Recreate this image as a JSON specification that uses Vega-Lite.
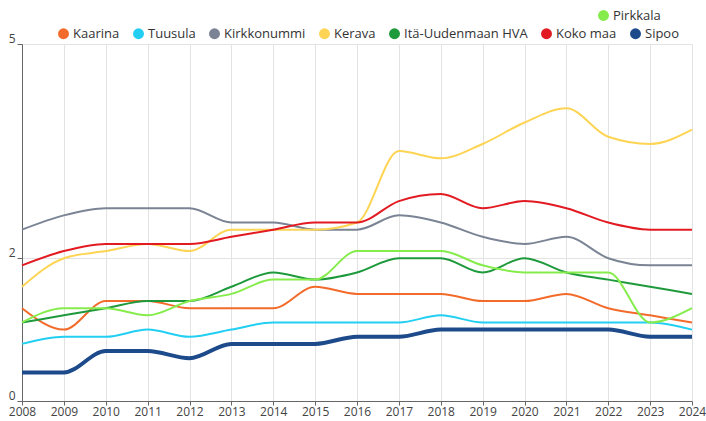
{
  "$schema": "https://vega.github.io/schema/vega-lite/v6.json",
  "autosize": "none",
  "width": 670,
  "height": 357,
  "padding": {"left": 22, "top": 44, "right": 14, "bottom": 20},
  "background": "white",
  "config": {
    "font": "Open Sans",
    "view": {"stroke": null},
    "axis": {"labelFont": "Open Sans", "labelFontSize": 12, "labelColor": "#444", "domainColor": "#666", "tickColor": "#666", "gridColor": "#e3e3e3", "title": null}
  },
  "data": {"values": [
    {"kunta": "Kaarina", "vuosi": 2008, "arvo": 1.3}, {"kunta": "Kaarina", "vuosi": 2009, "arvo": 1.0}, {"kunta": "Kaarina", "vuosi": 2010, "arvo": 1.4}, {"kunta": "Kaarina", "vuosi": 2011, "arvo": 1.4}, {"kunta": "Kaarina", "vuosi": 2012, "arvo": 1.3}, {"kunta": "Kaarina", "vuosi": 2013, "arvo": 1.3}, {"kunta": "Kaarina", "vuosi": 2014, "arvo": 1.3}, {"kunta": "Kaarina", "vuosi": 2015, "arvo": 1.6}, {"kunta": "Kaarina", "vuosi": 2016, "arvo": 1.5}, {"kunta": "Kaarina", "vuosi": 2017, "arvo": 1.5}, {"kunta": "Kaarina", "vuosi": 2018, "arvo": 1.5}, {"kunta": "Kaarina", "vuosi": 2019, "arvo": 1.4}, {"kunta": "Kaarina", "vuosi": 2020, "arvo": 1.4}, {"kunta": "Kaarina", "vuosi": 2021, "arvo": 1.5}, {"kunta": "Kaarina", "vuosi": 2022, "arvo": 1.3}, {"kunta": "Kaarina", "vuosi": 2023, "arvo": 1.2}, {"kunta": "Kaarina", "vuosi": 2024, "arvo": 1.1},
    {"kunta": "Tuusula", "vuosi": 2008, "arvo": 0.8}, {"kunta": "Tuusula", "vuosi": 2009, "arvo": 0.9}, {"kunta": "Tuusula", "vuosi": 2010, "arvo": 0.9}, {"kunta": "Tuusula", "vuosi": 2011, "arvo": 1.0}, {"kunta": "Tuusula", "vuosi": 2012, "arvo": 0.9}, {"kunta": "Tuusula", "vuosi": 2013, "arvo": 1.0}, {"kunta": "Tuusula", "vuosi": 2014, "arvo": 1.1}, {"kunta": "Tuusula", "vuosi": 2015, "arvo": 1.1}, {"kunta": "Tuusula", "vuosi": 2016, "arvo": 1.1}, {"kunta": "Tuusula", "vuosi": 2017, "arvo": 1.1}, {"kunta": "Tuusula", "vuosi": 2018, "arvo": 1.2}, {"kunta": "Tuusula", "vuosi": 2019, "arvo": 1.1}, {"kunta": "Tuusula", "vuosi": 2020, "arvo": 1.1}, {"kunta": "Tuusula", "vuosi": 2021, "arvo": 1.1}, {"kunta": "Tuusula", "vuosi": 2022, "arvo": 1.1}, {"kunta": "Tuusula", "vuosi": 2023, "arvo": 1.1}, {"kunta": "Tuusula", "vuosi": 2024, "arvo": 1.0},
    {"kunta": "Kirkkonummi", "vuosi": 2008, "arvo": 2.4}, {"kunta": "Kirkkonummi", "vuosi": 2009, "arvo": 2.6}, {"kunta": "Kirkkonummi", "vuosi": 2010, "arvo": 2.7}, {"kunta": "Kirkkonummi", "vuosi": 2011, "arvo": 2.7}, {"kunta": "Kirkkonummi", "vuosi": 2012, "arvo": 2.7}, {"kunta": "Kirkkonummi", "vuosi": 2013, "arvo": 2.5}, {"kunta": "Kirkkonummi", "vuosi": 2014, "arvo": 2.5}, {"kunta": "Kirkkonummi", "vuosi": 2015, "arvo": 2.4}, {"kunta": "Kirkkonummi", "vuosi": 2016, "arvo": 2.4}, {"kunta": "Kirkkonummi", "vuosi": 2017, "arvo": 2.6}, {"kunta": "Kirkkonummi", "vuosi": 2018, "arvo": 2.5}, {"kunta": "Kirkkonummi", "vuosi": 2019, "arvo": 2.3}, {"kunta": "Kirkkonummi", "vuosi": 2020, "arvo": 2.2}, {"kunta": "Kirkkonummi", "vuosi": 2021, "arvo": 2.3}, {"kunta": "Kirkkonummi", "vuosi": 2022, "arvo": 2.0}, {"kunta": "Kirkkonummi", "vuosi": 2023, "arvo": 1.9}, {"kunta": "Kirkkonummi", "vuosi": 2024, "arvo": 1.9},
    {"kunta": "Kerava", "vuosi": 2008, "arvo": 1.6}, {"kunta": "Kerava", "vuosi": 2009, "arvo": 2.0}, {"kunta": "Kerava", "vuosi": 2010, "arvo": 2.1}, {"kunta": "Kerava", "vuosi": 2011, "arvo": 2.2}, {"kunta": "Kerava", "vuosi": 2012, "arvo": 2.1}, {"kunta": "Kerava", "vuosi": 2013, "arvo": 2.4}, {"kunta": "Kerava", "vuosi": 2014, "arvo": 2.4}, {"kunta": "Kerava", "vuosi": 2015, "arvo": 2.4}, {"kunta": "Kerava", "vuosi": 2016, "arvo": 2.5}, {"kunta": "Kerava", "vuosi": 2017, "arvo": 3.5}, {"kunta": "Kerava", "vuosi": 2018, "arvo": 3.4}, {"kunta": "Kerava", "vuosi": 2019, "arvo": 3.6}, {"kunta": "Kerava", "vuosi": 2020, "arvo": 3.9}, {"kunta": "Kerava", "vuosi": 2021, "arvo": 4.1}, {"kunta": "Kerava", "vuosi": 2022, "arvo": 3.7}, {"kunta": "Kerava", "vuosi": 2023, "arvo": 3.6}, {"kunta": "Kerava", "vuosi": 2024, "arvo": 3.8},
    {"kunta": "Itä-Uudenmaan HVA", "vuosi": 2008, "arvo": 1.1}, {"kunta": "Itä-Uudenmaan HVA", "vuosi": 2009, "arvo": 1.2}, {"kunta": "Itä-Uudenmaan HVA", "vuosi": 2010, "arvo": 1.3}, {"kunta": "Itä-Uudenmaan HVA", "vuosi": 2011, "arvo": 1.4}, {"kunta": "Itä-Uudenmaan HVA", "vuosi": 2012, "arvo": 1.4}, {"kunta": "Itä-Uudenmaan HVA", "vuosi": 2013, "arvo": 1.6}, {"kunta": "Itä-Uudenmaan HVA", "vuosi": 2014, "arvo": 1.8}, {"kunta": "Itä-Uudenmaan HVA", "vuosi": 2015, "arvo": 1.7}, {"kunta": "Itä-Uudenmaan HVA", "vuosi": 2016, "arvo": 1.8}, {"kunta": "Itä-Uudenmaan HVA", "vuosi": 2017, "arvo": 2.0}, {"kunta": "Itä-Uudenmaan HVA", "vuosi": 2018, "arvo": 2.0}, {"kunta": "Itä-Uudenmaan HVA", "vuosi": 2019, "arvo": 1.8}, {"kunta": "Itä-Uudenmaan HVA", "vuosi": 2020, "arvo": 2.0}, {"kunta": "Itä-Uudenmaan HVA", "vuosi": 2021, "arvo": 1.8}, {"kunta": "Itä-Uudenmaan HVA", "vuosi": 2022, "arvo": 1.7}, {"kunta": "Itä-Uudenmaan HVA", "vuosi": 2023, "arvo": 1.6}, {"kunta": "Itä-Uudenmaan HVA", "vuosi": 2024, "arvo": 1.5},
    {"kunta": "Koko maa", "vuosi": 2008, "arvo": 1.9}, {"kunta": "Koko maa", "vuosi": 2009, "arvo": 2.1}, {"kunta": "Koko maa", "vuosi": 2010, "arvo": 2.2}, {"kunta": "Koko maa", "vuosi": 2011, "arvo": 2.2}, {"kunta": "Koko maa", "vuosi": 2012, "arvo": 2.2}, {"kunta": "Koko maa", "vuosi": 2013, "arvo": 2.3}, {"kunta": "Koko maa", "vuosi": 2014, "arvo": 2.4}, {"kunta": "Koko maa", "vuosi": 2015, "arvo": 2.5}, {"kunta": "Koko maa", "vuosi": 2016, "arvo": 2.5}, {"kunta": "Koko maa", "vuosi": 2017, "arvo": 2.8}, {"kunta": "Koko maa", "vuosi": 2018, "arvo": 2.9}, {"kunta": "Koko maa", "vuosi": 2019, "arvo": 2.7}, {"kunta": "Koko maa", "vuosi": 2020, "arvo": 2.8}, {"kunta": "Koko maa", "vuosi": 2021, "arvo": 2.7}, {"kunta": "Koko maa", "vuosi": 2022, "arvo": 2.5}, {"kunta": "Koko maa", "vuosi": 2023, "arvo": 2.4}, {"kunta": "Koko maa", "vuosi": 2024, "arvo": 2.4},
    {"kunta": "Sipoo", "vuosi": 2008, "arvo": 0.4}, {"kunta": "Sipoo", "vuosi": 2009, "arvo": 0.4}, {"kunta": "Sipoo", "vuosi": 2010, "arvo": 0.7}, {"kunta": "Sipoo", "vuosi": 2011, "arvo": 0.7}, {"kunta": "Sipoo", "vuosi": 2012, "arvo": 0.6}, {"kunta": "Sipoo", "vuosi": 2013, "arvo": 0.8}, {"kunta": "Sipoo", "vuosi": 2014, "arvo": 0.8}, {"kunta": "Sipoo", "vuosi": 2015, "arvo": 0.8}, {"kunta": "Sipoo", "vuosi": 2016, "arvo": 0.9}, {"kunta": "Sipoo", "vuosi": 2017, "arvo": 0.9}, {"kunta": "Sipoo", "vuosi": 2018, "arvo": 1.0}, {"kunta": "Sipoo", "vuosi": 2019, "arvo": 1.0}, {"kunta": "Sipoo", "vuosi": 2020, "arvo": 1.0}, {"kunta": "Sipoo", "vuosi": 2021, "arvo": 1.0}, {"kunta": "Sipoo", "vuosi": 2022, "arvo": 1.0}, {"kunta": "Sipoo", "vuosi": 2023, "arvo": 0.9}, {"kunta": "Sipoo", "vuosi": 2024, "arvo": 0.9},
    {"kunta": "Pirkkala", "vuosi": 2008, "arvo": 1.1}, {"kunta": "Pirkkala", "vuosi": 2009, "arvo": 1.3}, {"kunta": "Pirkkala", "vuosi": 2010, "arvo": 1.3}, {"kunta": "Pirkkala", "vuosi": 2011, "arvo": 1.2}, {"kunta": "Pirkkala", "vuosi": 2012, "arvo": 1.4}, {"kunta": "Pirkkala", "vuosi": 2013, "arvo": 1.5}, {"kunta": "Pirkkala", "vuosi": 2014, "arvo": 1.7}, {"kunta": "Pirkkala", "vuosi": 2015, "arvo": 1.7}, {"kunta": "Pirkkala", "vuosi": 2016, "arvo": 2.1}, {"kunta": "Pirkkala", "vuosi": 2017, "arvo": 2.1}, {"kunta": "Pirkkala", "vuosi": 2018, "arvo": 2.1}, {"kunta": "Pirkkala", "vuosi": 2019, "arvo": 1.9}, {"kunta": "Pirkkala", "vuosi": 2020, "arvo": 1.8}, {"kunta": "Pirkkala", "vuosi": 2021, "arvo": 1.8}, {"kunta": "Pirkkala", "vuosi": 2022, "arvo": 1.8}, {"kunta": "Pirkkala", "vuosi": 2023, "arvo": 1.1}, {"kunta": "Pirkkala", "vuosi": 2024, "arvo": 1.3}
  ]},
  "encoding": {
    "x": {"field": "vuosi", "type": "quantitative", "scale": {"domain": [2008, 2024], "nice": false, "zero": false},
      "axis": {"values": [2008,2009,2010,2011,2012,2013,2014,2015,2016,2017,2018,2019,2020,2021,2022,2023,2024], "format": "d", "grid": true, "tickSize": 4, "labelPadding": 1, "labelFlush": false, "labelOverlap": false}},
    "y": {"field": "arvo", "type": "quantitative", "scale": {"domain": [0, 5], "nice": false},
      "axis": {"values": [0, 2, 5], "grid": true, "tickSize": 5, "labelPadding": 2, "labelOffset": -6}}
  },
  "layer": [
    {
      "transform": [{"filter": "datum.kunta !== 'Pirkkala'"}],
      "mark": {"type": "line", "interpolate": "monotone"},
      "encoding": {
        "color": {"field": "kunta", "type": "nominal",
          "scale": {"domain": ["Kaarina", "Tuusula", "Kirkkonummi", "Kerava", "Itä-Uudenmaan HVA", "Koko maa", "Sipoo"],
            "range": ["#F26B2A", "#22CFF2", "#7B8494", "#FDD453", "#1E9A3C", "#E21A22", "#1C4A8A"]},
          "legend": {"title": null, "orient": "none", "legendX": 35, "legendY": -17, "direction": "horizontal", "columns": 7,
            "symbolType": "circle", "symbolSize": 120, "symbolStrokeWidth": 0, "symbolOpacity": 1,
            "labelFont": "Open Sans", "labelFontSize": 13, "labelColor": "#333", "columnPadding": 12, "labelOffset": 3,
            "encode": {"symbols": {"update": {"fill": {"scale": "color", "field": "value"}, "strokeWidth": {"value": 0}}}}}},
        "strokeWidth": {"condition": {"test": "datum.kunta === 'Sipoo'", "value": 4}, "value": 2}
      }
    },
    {
      "transform": [{"filter": "datum.kunta === 'Pirkkala'"}],
      "mark": {"type": "line", "interpolate": "monotone", "strokeWidth": 2},
      "encoding": {
        "stroke": {"field": "kunta", "type": "nominal",
          "scale": {"domain": ["Pirkkala"], "range": ["#86EC4C"]},
          "legend": {"title": null, "orient": "none", "legendX": 575, "legendY": -35, "direction": "horizontal",
            "symbolType": "circle", "symbolSize": 120, "symbolStrokeWidth": 0, "symbolFillColor": "#86EC4C", "symbolOpacity": 1,
            "labelFont": "Open Sans", "labelFontSize": 13, "labelColor": "#333", "labelOffset": 3}}
      }
    }
  ]
}
